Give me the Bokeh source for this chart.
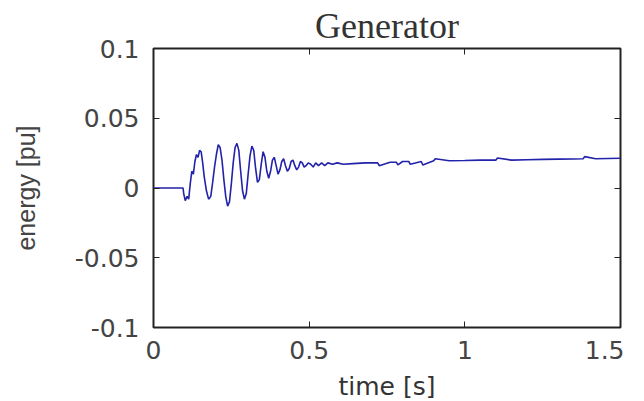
from bokeh.plotting import figure
from bokeh.models import LinearAxis, FixedTicker, Range1d
from bokeh.embed import file_html
from bokeh.resources import INLINE

# ---- data ----
time_s = [0.0, 0.095, 0.097, 0.102, 0.108, 0.113, 0.118, 0.123, 0.128, 0.133, 0.138,
          0.143, 0.148, 0.153, 0.158, 0.163, 0.170, 0.177, 0.184, 0.190, 0.196,
          0.202, 0.208, 0.214, 0.220, 0.226, 0.232, 0.238, 0.244, 0.250, 0.256,
          0.262, 0.268, 0.274, 0.280, 0.286, 0.292, 0.298, 0.304, 0.310, 0.316,
          0.322, 0.328, 0.334, 0.340, 0.346, 0.352, 0.358, 0.364, 0.370, 0.376,
          0.382, 0.388, 0.394, 0.400, 0.406, 0.412, 0.418, 0.424, 0.430, 0.436,
          0.442, 0.448, 0.454, 0.460, 0.466, 0.472, 0.478, 0.484, 0.490, 0.497,
          0.505, 0.513, 0.521, 0.530, 0.540, 0.550, 0.560, 0.575, 0.590, 0.610,
          0.640, 0.680, 0.720, 0.725, 0.760, 0.780, 0.785, 0.800, 0.820, 0.825,
          0.860, 0.865, 0.900, 0.905, 0.950, 1.000, 1.050, 1.100, 1.105, 1.150,
          1.200, 1.250, 1.300, 1.350, 1.380, 1.385, 1.420, 1.460, 1.500]
energy_pu = [0.0, 0.0, -0.004, -0.009, -0.006, -0.008, 0.003, 0.012, 0.010, 0.019, 0.024,
             0.022, 0.027, 0.026, 0.018, 0.008, -0.002, -0.008, -0.006, 0.004, 0.015,
             0.024, 0.031, 0.029, 0.020, 0.006, -0.006, -0.013, -0.010, 0.003, 0.018,
             0.029, 0.032, 0.027, 0.012, -0.002, -0.008, -0.004, 0.010, 0.023, 0.030,
             0.027, 0.014, 0.004, 0.006, 0.017, 0.026, 0.022, 0.012, 0.007, 0.012,
             0.020, 0.022, 0.016, 0.010, 0.013, 0.019, 0.021, 0.016, 0.012, 0.014,
             0.019, 0.020, 0.016, 0.013, 0.015, 0.019, 0.018, 0.015, 0.016, 0.018,
             0.017, 0.015, 0.018, 0.016, 0.018, 0.016, 0.018, 0.017, 0.018, 0.017,
             0.0175, 0.018, 0.018, 0.016, 0.0185, 0.0185, 0.0165, 0.019, 0.019, 0.017,
             0.019, 0.0165, 0.0195, 0.021, 0.0195, 0.0197, 0.020, 0.020, 0.0215, 0.020,
             0.0203, 0.0205, 0.0207, 0.0208, 0.021, 0.0225, 0.021, 0.0212, 0.0213]

x_ticks = [0, 0.5, 1, 1.5]
y_ticks = [-0.1, -0.05, 0, 0.05, 0.1]
x_tick_labels = {0: "0", 0.5: "0.5", 1: "1", 1.5: "1.5"}
y_tick_labels = {-0.1: "-0.1", -0.05: "-0.05", 0: "0", 0.05: "0.05", 0.1: "0.1"}

TICK_FONT = "DejaVu Sans"

p = figure(frame_width=467, frame_height=279, output_backend="svg",
           toolbar_location=None, x_axis_type=None, y_axis_type=None,
           x_range=Range1d(0, 1.5), y_range=Range1d(-0.1, 0.1),
           min_border_left=153, min_border_top=40, min_border_right=4,
           min_border_bottom=40, background_fill_color="white",
           border_fill_color="white")

p.outline_line_color = "#222222"
p.outline_line_width = 2
p.outline_line_alpha = 1.0
p.grid.visible = False

p.title.text = "Generator"
p.title.align = "center"
p.title.text_font = "Liberation Serif"
p.title.text_font_size = "36px"
p.title.text_font_style = "normal"
p.title.text_color = "#333333"
p.title.standoff = 6

def make_axis(ticks, labels, show_labels):
    ax = LinearAxis(ticker=FixedTicker(ticks=ticks))
    ax.major_tick_in = 6
    ax.major_tick_out = 0
    ax.minor_tick_in = 0
    ax.minor_tick_out = 0
    ax.axis_line_color = None
    ax.major_tick_line_color = "#222222"
    ax.major_tick_line_width = 1
    if show_labels:
        ax.major_label_overrides = labels
        ax.major_label_text_font = TICK_FONT
        ax.major_label_text_font_size = "25px"
        ax.major_label_text_color = "#444444"
    else:
        ax.major_label_text_font_size = "0px"
        ax.major_label_text_color = None
        ax.major_label_standoff = 0
    return ax

xb = make_axis(x_ticks, x_tick_labels, True)
xb.major_label_standoff = 13
xb.axis_label = "time [s]"
xb.axis_label_text_font = TICK_FONT
xb.axis_label_text_font_size = "25px"
xb.axis_label_text_font_style = "normal"
xb.axis_label_text_color = "#333333"
xb.axis_label_standoff = 10
p.add_layout(xb, "below")

yl = make_axis(y_ticks, y_tick_labels, True)
yl.major_label_standoff = 14
yl.axis_label = "energy [pu]"
yl.axis_label_text_font = "Liberation Sans"
yl.axis_label_text_font_size = "25px"
yl.axis_label_text_font_style = "normal"
yl.axis_label_text_color = "#444444"
yl.axis_label_standoff = 32
p.add_layout(yl, "left")

xt = make_axis(x_ticks, x_tick_labels, False)
p.add_layout(xt, "above")
yr = make_axis(y_ticks, y_tick_labels, False)
p.add_layout(yr, "right")

p.line(time_s, energy_pu, line_color="#2222aa", line_width=1.6)

open("out.html", "w").write(file_html(p, INLINE))
